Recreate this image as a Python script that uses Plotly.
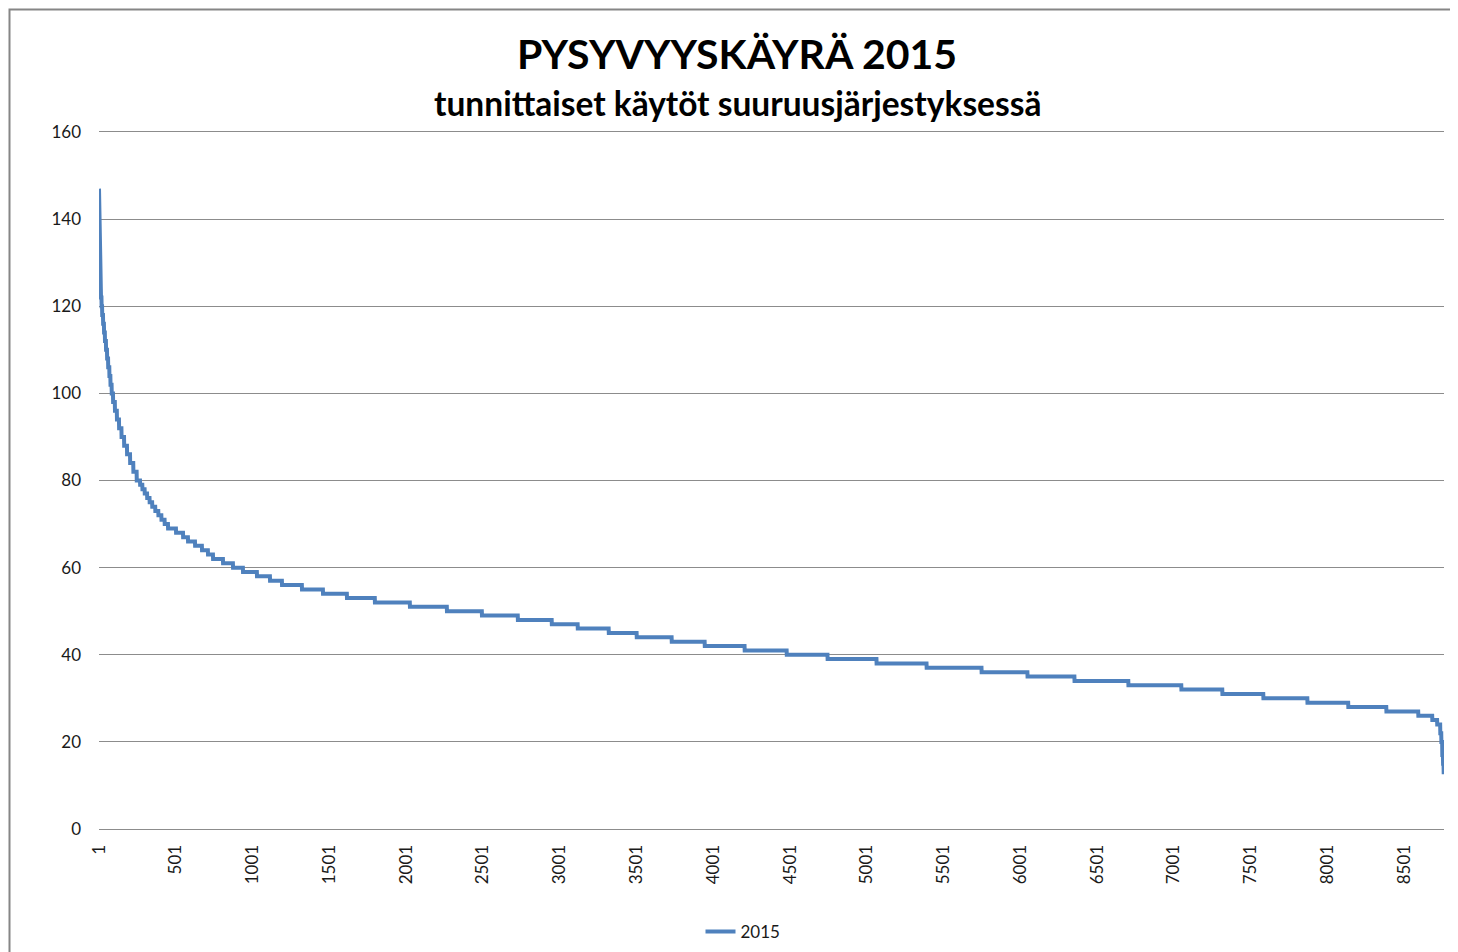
import numpy as np
import plotly.graph_objects as go

# Duration curve 2015: each integer level and the last hour (rank) at which it is held
levels = [147, 143, 140, 137, 134, 131, 128, 126, 124, 122, 120, 118, 116, 114, 112,
          110, 108, 106, 104, 102, 100, 98, 96, 94, 92, 90, 88, 86, 84, 82, 80,
          79, 78, 77, 76, 75, 74, 73, 72, 71, 70, 69, 68, 67, 66, 65, 64, 63, 62,
          61, 60, 59, 58, 57, 56, 55, 54, 53, 52, 51, 50, 49, 48, 47, 46, 45, 44,
          43, 42, 41, 40, 39, 38, 37, 36, 35, 34, 33, 32, 31, 30, 29, 28, 27, 26,
          25, 24, 22, 20, 17, 15, 13]
end_hours = [1, 2, 3, 4, 5, 6, 8, 10, 13, 17, 21, 27, 33, 39, 46,
             53, 60, 68, 75, 83, 92, 104, 117, 131, 147, 164, 183, 203, 224, 246, 268,
             283, 298, 314, 330, 347, 367, 387, 407, 428, 450, 502, 548, 580, 626, 671, 710, 743, 808,
             873, 938, 1029, 1114, 1192, 1322, 1459, 1615, 1797, 2025, 2266, 2494, 2728, 2949, 3118, 3320, 3502, 3730,
             3945, 4205, 4479, 4745, 5064, 5390, 5748, 6047, 6353, 6704, 7049, 7316, 7583, 7870, 8136, 8384, 8592, 8683,
             8715, 8735, 8742, 8748, 8753, 8757, 8760]

tick_hours = [1, 501, 1001, 1501, 2001, 2501, 3001, 3501, 4001, 4501, 5001, 5501,
              6001, 6501, 7001, 7501, 8001, 8501]
y_ticks = [0, 20, 40, 60, 80, 100, 120, 140, 160]
series_name = "2015"
title_main = "PYSYVYYSKÄYRÄ 2015"
title_sub = "tunnittaiset käytöt suuruusjärjestyksessä"

counts = np.diff([0] + end_hours)
values = np.repeat(levels, counts)
hours = np.arange(1, len(values) + 1)

fig = go.Figure()
fig.add_trace(go.Scatter(x=hours, y=values, mode="lines", name=series_name,
                         line=dict(color="#4F81BD", width=4)))

font_family = "Lato, 'Open Sans', sans-serif"
# page offset of 8px (body margin) is compensated in margins
PL, PT, PW, PH = 99, 132, 1345, 697
FW, FH = 1450, 944


def px(xp):
    return (xp - PL) / PW


def py(yp):
    return (PT + PH - yp) / PH


fig.update_layout(
    width=FW, height=FH,
    margin=dict(l=91, r=14, t=124, b=123, autoexpand=False),
    paper_bgcolor="white", plot_bgcolor="white",
    font=dict(family=font_family, color="#1a1a1a"),
    showlegend=True,
    legend=dict(orientation="h", xref="container", x=(743 - 8) / FW, xanchor="center",
                yref="container", y=1 - (932 - 8) / FH, yanchor="middle",
                font=dict(size=17, family=font_family, color="#1a1a1a")),
    xaxis=dict(range=[1, 8760], tickvals=tick_hours, ticktext=[str(t) for t in tick_hours],
               tickangle=-90, showgrid=False, zeroline=False, showline=True, mirror=True,
               linecolor="#8c8c8c", linewidth=1,
               ticks="", ticklabelstandoff=8, tickfont=dict(size=17)),
    yaxis=dict(range=[0, 160], tickvals=y_ticks, showgrid=True, gridcolor="#8c8c8c",
               gridwidth=1, zeroline=False, showline=False, ticks="",
               ticklabelstandoff=17, tickfont=dict(size=17)),
    annotations=[
        dict(text=f"<b>{title_main}</b>", xref="paper", yref="paper", x=px(737), y=py(53),
             xanchor="center", yanchor="middle", showarrow=False,
             font=dict(size=41, family=font_family, color="black")),
        dict(text=f"<b>{title_sub}</b>", xref="paper", yref="paper", x=px(737), y=py(103),
             xanchor="center", yanchor="middle", showarrow=False,
             font=dict(size=33.5, family=font_family, color="black")),
    ],
    shapes=[dict(type="rect", xref="paper", yref="paper",
                 x0=px(9.5), x1=1.05, y0=-0.3, y1=py(9.5),
                 line=dict(color="#868686", width=2), layer="below")],
)

fig.write_html("out.html")
